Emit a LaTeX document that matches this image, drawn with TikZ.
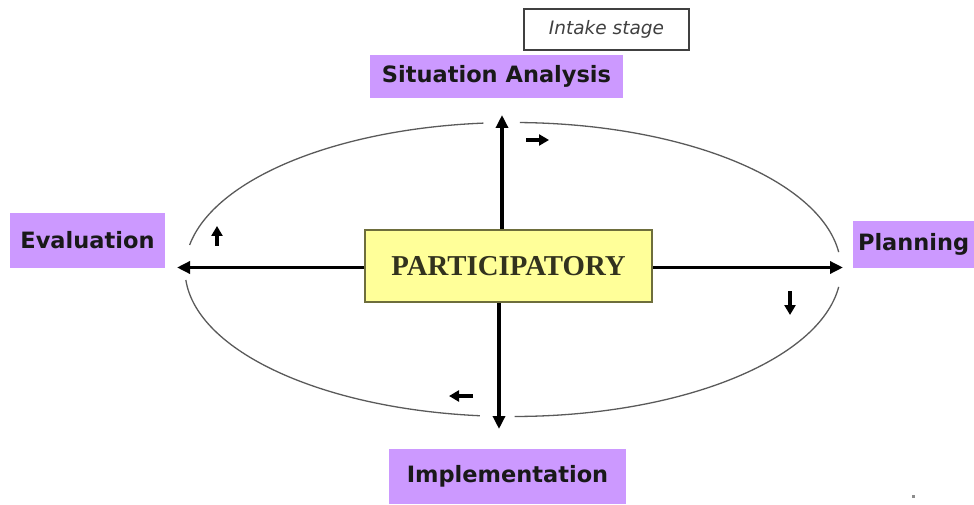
\documentclass[tikz,border=0pt]{standalone}
\usepackage{fontspec}
\usetikzlibrary{arrows.meta}
\newfontfamily\labelfont{DejaVu Sans}
\newfontfamily\centerfont{Liberation Serif}
\definecolor{lilac}{RGB}{204,153,255}
\definecolor{paleyellow}{RGB}{255,255,153}
\definecolor{olive}{RGB}{110,110,60}
\definecolor{ringgray}{RGB}{90,90,90}
\tikzset{
  x=1pt, y=1pt,
  stagebox/.style={fill=lilac, draw=none, inner sep=0pt,
    font=\labelfont\bfseries\fontsize{22.5}{24}\selectfont, text=black!90},
  mainarrow/.style={line width=3.6pt, -{Triangle[length=13pt,width=12pt]}},
  smallarrow/.style={line width=3.2pt, -{Triangle[length=10pt,width=11pt]}},
  ring/.style={draw=ringgray, line width=1.3pt}
}
\begin{document}
\begin{tikzpicture}
\useasboundingbox (0,0) rectangle (974,504);
% intake stage
\node (intake) [draw=black!75, line width=1.6pt, fill=white, minimum width=165pt, minimum height=41pt, inner sep=0pt,
  font=\labelfont\itshape\fontsize{18.5}{20}\selectfont, text=black!75] at (606.5,474.5) {Intake stage};
% stage boxes
\node (sit) [stagebox, minimum width=253pt, minimum height=43pt] at (496.5,427.5) {Situation Analysis};
\node (eval) [stagebox, minimum width=155pt, minimum height=55pt] at (87.5,263.5) {Evaluation};
\node (plan) [stagebox, minimum width=130pt, minimum height=47pt, text width=120pt, align=left] at (918,259.5) {Planning};
\node (impl) [stagebox, minimum width=237pt, minimum height=55pt] at (507.5,27.5) {Implementation};
% centre
\node (part) [fill=paleyellow, draw=olive, line width=2pt, minimum width=287pt, minimum height=72pt, inner sep=0pt,
  font=\centerfont\bfseries\fontsize{28.8}{30}\selectfont, text={rgb,255:red,50;green,50;blue,30}] at (508.5,238) {PARTICIPATORY};
% ring (ellipse with gaps)
\coordinate (c) at (513,234.5);
\draw[ring] (c) ++(6.8:328pt and 147pt) arc[start angle=6.8, end angle=88.8, x radius=328pt, y radius=147pt];
\draw[ring] (c) ++(95.2:328pt and 147pt) arc[start angle=95.2, end angle=170.4, x radius=328pt, y radius=147pt];
\draw[ring] (c) ++(184.1:328pt and 147pt) arc[start angle=184.1, end angle=264.2, x radius=328pt, y radius=147pt];
\draw[ring] (c) ++(270.3:328pt and 147pt) arc[start angle=270.3, end angle=353.2, x radius=328pt, y radius=147pt];
% main arrows
\coordinate (topend) at (502,389);
\coordinate (botend) at (499,75);
\coordinate (leftend) at (177,236.5);
\coordinate (rightend) at (843,236.5);
\draw[mainarrow] (part.north -| topend) -- (topend);
\draw[mainarrow] (part.south -| botend) -- (botend);
\draw[mainarrow] (part.west |- leftend) -- (leftend);
\draw[mainarrow] (part.east |- rightend) -- (rightend);
% small direction arrows
\coordinate (a1) at (526,364); \coordinate (a2) at (549,364);
\coordinate (b1) at (790,213); \coordinate (b2) at (790,189);
\coordinate (d1) at (473,108); \coordinate (d2) at (449,108);
\coordinate (e1) at (217,258); \coordinate (e2) at (217,278);
\draw[smallarrow] (a1) -- (a2);
\draw[smallarrow] (b1) -- (b2);
\draw[smallarrow] (d1) -- (d2);
\draw[smallarrow] (e1) -- (e2);
% stray dot
\fill[black!45] (911.5,6.5) rectangle (914.5,9.5);
\end{tikzpicture}
\end{document}
